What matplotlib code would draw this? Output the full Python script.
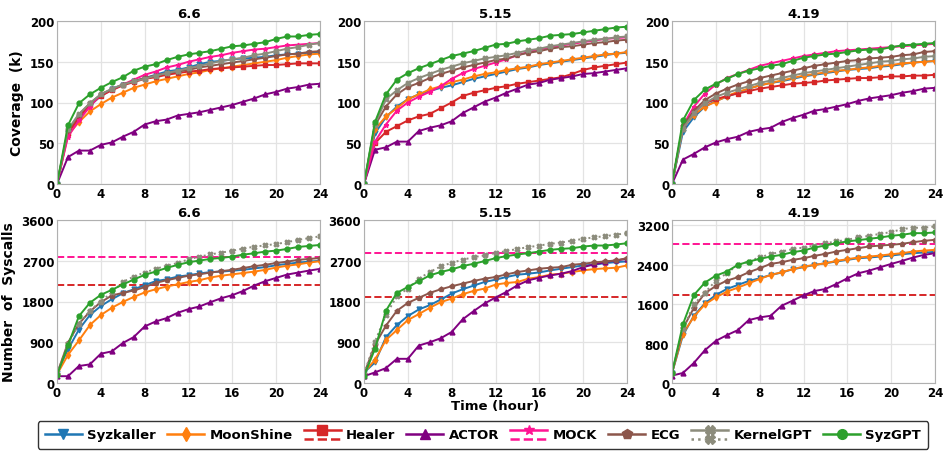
import matplotlib
matplotlib.use("Agg")
import matplotlib.pyplot as plt
from matplotlib.lines import Line2D
from matplotlib.legend_handler import HandlerBase

hours = list(range(25))
versions = ["6.6", "5.15", "4.19"]

# ---- coverage (k), top row ----
cov_syzkaller = {
    "6.6": [0, 63, 80, 96, 108, 116, 122, 126, 130, 134, 138, 140, 143, 147, 150, 151, 153, 154, 155, 156, 158, 159, 160, 161, 162],
    "5.15": [0, 62, 82, 95, 104, 110, 114, 118, 121, 125, 129, 132, 135, 138, 141, 143, 146, 148, 150, 152, 154, 156, 158, 160, 161],
    "4.19": [0, 64, 82, 95, 102, 107, 112, 117, 121, 124, 126, 129, 132, 134, 136, 138, 140, 141, 142, 144, 145, 147, 149, 150, 151],
}
cov_moonshine = {
    "6.6": [0, 60, 76, 89, 98, 106, 112, 118, 122, 126, 129, 132, 135, 137, 140, 142, 144, 146, 148, 150, 152, 155, 157, 159, 160],
    "5.15": [0, 67, 83, 93, 104, 110, 116, 120, 125, 128, 132, 135, 137, 140, 142, 144, 147, 149, 151, 153, 155, 157, 159, 160, 162],
    "4.19": [0, 69, 85, 95, 101, 108, 113, 117, 121, 124, 127, 130, 133, 135, 137, 139, 140, 142, 143, 145, 146, 148, 149, 150, 151],
}
cov_healer = {
    "6.6": [0, 62, 82, 97, 108, 115, 121, 125, 129, 131, 134, 136, 138, 139, 141, 142, 143, 144, 145, 146, 146, 147, 148, 148, 148],
    "5.15": [0, 50, 64, 71, 78, 83, 86, 93, 100, 108, 112, 115, 118, 120, 123, 125, 127, 129, 131, 135, 140, 143, 145, 147, 149],
    "4.19": [0, 70, 88, 99, 104, 108, 111, 114, 117, 119, 121, 123, 124, 125, 127, 128, 129, 130, 130, 131, 132, 132, 133, 133, 134],
}
cov_actor = {
    "6.6": [0, 33, 41, 41, 48, 51, 58, 64, 73, 77, 79, 84, 86, 88, 91, 94, 97, 101, 105, 110, 113, 117, 119, 122, 123],
    "5.15": [0, 42, 45, 52, 52, 65, 69, 72, 77, 87, 94, 101, 106, 112, 117, 122, 124, 128, 130, 132, 135, 136, 138, 140, 142],
    "4.19": [0, 30, 37, 45, 51, 55, 58, 64, 67, 69, 76, 81, 85, 90, 92, 95, 98, 102, 105, 107, 109, 112, 114, 117, 118],
}
cov_mock = {
    "6.6": [0, 58, 78, 95, 110, 116, 122, 128, 134, 138, 143, 146, 150, 153, 156, 158, 161, 163, 165, 166, 168, 170, 171, 172, 173],
    "5.15": [0, 52, 73, 90, 100, 107, 113, 120, 129, 136, 141, 145, 149, 153, 158, 162, 165, 168, 170, 172, 174, 176, 178, 179, 180],
    "4.19": [0, 72, 95, 111, 122, 130, 135, 140, 145, 148, 151, 154, 157, 159, 161, 163, 164, 165, 166, 167, 168, 169, 170, 171, 172],
}
cov_ecg = {
    "6.6": [0, 66, 85, 99, 110, 116, 122, 126, 130, 133, 136, 138, 140, 143, 145, 147, 149, 151, 153, 155, 157, 159, 160, 162, 163],
    "5.15": [0, 72, 95, 110, 119, 124, 130, 135, 139, 143, 146, 149, 152, 154, 158, 161, 163, 166, 168, 169, 171, 173, 174, 176, 177],
    "4.19": [0, 71, 90, 103, 111, 117, 122, 126, 130, 133, 136, 139, 142, 145, 147, 149, 151, 152, 154, 155, 156, 158, 159, 162, 163],
}
cov_kernelgpt = {
    "6.6": [0, 67, 86, 99, 110, 117, 122, 126, 129, 133, 136, 139, 142, 145, 148, 151, 153, 155, 158, 160, 163, 166, 168, 171, 173],
    "5.15": [0, 73, 104, 115, 124, 130, 135, 140, 144, 148, 151, 154, 156, 158, 161, 164, 166, 169, 171, 173, 175, 177, 178, 180, 181],
    "4.19": [0, 68, 87, 99, 107, 112, 116, 120, 124, 127, 130, 133, 136, 138, 140, 142, 144, 146, 148, 150, 151, 153, 154, 156, 157],
}
cov_syzgpt = {
    "6.6": [0, 72, 99, 110, 118, 125, 131, 139, 144, 147, 152, 156, 159, 161, 163, 166, 169, 170, 172, 174, 178, 181, 181, 183, 184],
    "5.15": [0, 76, 110, 128, 136, 142, 147, 152, 157, 160, 163, 167, 171, 172, 175, 177, 179, 182, 183, 184, 186, 188, 190, 192, 193],
    "4.19": [0, 78, 103, 116, 123, 129, 135, 139, 142, 145, 147, 151, 155, 157, 159, 160, 162, 164, 165, 165, 168, 170, 171, 172, 173],
}

# ---- number of syscalls, bottom row ----
sys_syzkaller = {
    "6.6": [230, 740, 1180, 1500, 1700, 1850, 1980, 2070, 2160, 2250, 2290, 2350, 2380, 2420, 2450, 2460, 2480, 2500, 2530, 2560, 2600, 2630, 2660, 2680, 2700],
    "5.15": [230, 454, 1010, 1280, 1478, 1624, 1719, 1843, 1975, 2070, 2151, 2231, 2282, 2341, 2392, 2414, 2443, 2487, 2524, 2560, 2597, 2611, 2648, 2670, 2685],
    "4.19": [200, 971, 1365, 1617, 1787, 1909, 1990, 2072, 2126, 2194, 2242, 2310, 2351, 2398, 2432, 2466, 2500, 2534, 2548, 2568, 2588, 2615, 2636, 2649, 2663],
}
sys_moonshine = {
    "6.6": [190, 620, 940, 1280, 1500, 1660, 1790, 1900, 2000, 2070, 2130, 2180, 2230, 2270, 2330, 2370, 2400, 2430, 2460, 2500, 2550, 2590, 2620, 2660, 2690],
    "5.15": [230, 512, 951, 1170, 1390, 1522, 1661, 1785, 1865, 1961, 2034, 2085, 2173, 2209, 2231, 2304, 2341, 2392, 2414, 2451, 2487, 2516, 2531, 2546, 2597],
    "4.19": [200, 1005, 1345, 1596, 1739, 1855, 1936, 2024, 2113, 2194, 2249, 2310, 2364, 2398, 2432, 2480, 2514, 2548, 2568, 2588, 2615, 2636, 2670, 2690, 2704],
}
sys_actor = {
    "6.6": [150, 150, 375, 411, 647, 698, 882, 1014, 1249, 1359, 1433, 1550, 1631, 1690, 1785, 1873, 1940, 2035, 2153, 2248, 2322, 2395, 2439, 2483, 2520],
    "5.15": [150, 234, 329, 534, 534, 827, 900, 988, 1127, 1405, 1587, 1756, 1887, 2012, 2158, 2268, 2326, 2377, 2414, 2473, 2560, 2619, 2670, 2707, 2743],
    "4.19": [150, 204, 408, 666, 856, 971, 1073, 1277, 1332, 1365, 1569, 1671, 1780, 1868, 1909, 2011, 2126, 2228, 2283, 2351, 2418, 2480, 2548, 2602, 2636],
}
sys_ecg = {
    "6.6": [200, 889, 1308, 1580, 1785, 1932, 1991, 2043, 2116, 2210, 2270, 2320, 2370, 2400, 2440, 2470, 2500, 2540, 2580, 2610, 2650, 2680, 2720, 2740, 2760],
    "5.15": [200, 841, 1266, 1595, 1770, 1880, 1990, 2070, 2136, 2195, 2253, 2304, 2341, 2399, 2451, 2487, 2524, 2546, 2560, 2611, 2633, 2663, 2685, 2707, 2758],
    "4.19": [200, 1107, 1529, 1821, 1970, 2079, 2147, 2249, 2330, 2419, 2452, 2500, 2534, 2582, 2622, 2670, 2704, 2738, 2772, 2792, 2806, 2826, 2860, 2887, 2908],
}
sys_kernelgpt = {
    "6.6": [200, 870, 1300, 1600, 1800, 2000, 2230, 2350, 2440, 2520, 2590, 2650, 2730, 2790, 2840, 2880, 2920, 2970, 3010, 3040, 3070, 3110, 3160, 3200, 3240],
    "5.15": [200, 914, 1500, 1917, 2085, 2304, 2451, 2575, 2655, 2721, 2780, 2816, 2875, 2912, 2963, 3000, 3036, 3073, 3102, 3146, 3182, 3219, 3241, 3277, 3307],
    "4.19": [200, 1100, 1600, 1834, 2079, 2228, 2398, 2466, 2554, 2615, 2670, 2717, 2751, 2792, 2840, 2874, 2908, 2955, 2989, 3030, 3064, 3125, 3152, 3152, 3179],
}
sys_syzgpt = {
    "6.6": [170, 830, 1477, 1771, 1947, 2057, 2175, 2285, 2388, 2461, 2542, 2608, 2667, 2704, 2741, 2763, 2792, 2836, 2865, 2902, 2924, 2961, 3005, 3027, 3049],
    "5.15": [150, 753, 1595, 1990, 2121, 2246, 2377, 2451, 2509, 2582, 2633, 2692, 2758, 2802, 2838, 2868, 2904, 2941, 2963, 2977, 3014, 3036, 3036, 3058, 3087],
    "4.19": [200, 1196, 1787, 2038, 2181, 2262, 2398, 2466, 2520, 2568, 2602, 2656, 2690, 2751, 2792, 2840, 2874, 2901, 2928, 2955, 2989, 3010, 3043, 3043, 3057],
}
# Healer and MOCK only report a final number -> flat dashed lines
sys_healer = {"6.6": 2170, "5.15": 1910, "4.19": 1790}
sys_mock = {"6.6": 2790, "5.15": 2880, "4.19": 2830}

sys_ylim = {"6.6": 3600, "5.15": 3600, "4.19": 3310}
sys_ticks = {"6.6": [0, 900, 1800, 2700, 3600], "5.15": [0, 900, 1800, 2700, 3600],
             "4.19": [0, 800, 1600, 2400, 3200]}

names = ["Syzkaller", "MoonShine", "Healer", "ACTOR", "MOCK", "ECG", "KernelGPT", "SyzGPT"]
colors = {"Syzkaller": "#1f77b4", "MoonShine": "#ff7f0e", "Healer": "#d62728", "ACTOR": "#800080",
          "MOCK": "#ff1493", "ECG": "#8c564b", "KernelGPT": "#8c8c7c", "SyzGPT": "#2ca02c"}
markers = {"Syzkaller": "v", "MoonShine": "d", "Healer": "s", "ACTOR": "^",
           "MOCK": "*", "ECG": "p", "KernelGPT": "X", "SyzGPT": "o"}
cov_data = {"Syzkaller": cov_syzkaller, "MoonShine": cov_moonshine, "Healer": cov_healer,
            "ACTOR": cov_actor, "MOCK": cov_mock, "ECG": cov_ecg, "KernelGPT": cov_kernelgpt,
            "SyzGPT": cov_syzgpt}
sys_data = {"Syzkaller": sys_syzkaller, "MoonShine": sys_moonshine, "ACTOR": sys_actor,
            "ECG": sys_ecg, "KernelGPT": sys_kernelgpt, "SyzGPT": sys_syzgpt}

plt.rcParams["font.family"] = "DejaVu Sans"
plt.rcParams["font.weight"] = "bold"

fig = plt.figure(figsize=(9.44, 4.56), dpi=100)
W, H = 944, 456
lefts = [57, 364, 672]
aw, ah = 263, 163
tops = [22, 221]
ms = 3.5


def style(ax):
    ax.grid(True, color="#e3e3e3", linewidth=0.9)
    ax.set_axisbelow(True)
    for s in ax.spines.values():
        s.set_color("#b0b0b0")
    ax.tick_params(length=0, labelsize=8.5, pad=2)
    for lab in ax.get_xticklabels() + ax.get_yticklabels():
        lab.set_fontweight("bold")
    ax.set_xlim(0, 24)
    ax.set_xticks([0, 4, 8, 12, 16, 20, 24])


for i, v in enumerate(versions):
    ax = fig.add_axes([lefts[i] / W, 1 - (tops[0] + ah) / H, aw / W, ah / H])
    for n in names:
        ax.plot(hours, cov_data[n][v], color=colors[n], marker=markers[n], markersize=ms,
                linewidth=1.4)
    ax.set_ylim(0, 200)
    ax.set_yticks([0, 50, 100, 150, 200])
    style(ax)
    ax.set_title(v, fontsize=9.5, fontweight="bold", pad=3)
    if i == 0:
        ax.set_ylabel("Coverage  (k)", fontsize=10, fontweight="bold")

    ax = fig.add_axes([lefts[i] / W, 1 - (tops[1] + ah) / H, aw / W, ah / H])
    ax.axhline(sys_healer[v], color=colors["Healer"], linestyle="--", linewidth=1.4)
    ax.axhline(sys_mock[v], color=colors["MOCK"], linestyle="--", linewidth=1.4)
    for n in names:
        if n not in sys_data:
            continue
        ls = ":" if n == "KernelGPT" else "-"
        ax.plot(hours, sys_data[n][v], color=colors[n], marker=markers[n], markersize=ms,
                linewidth=1.4, linestyle=ls)
    ax.set_ylim(0, sys_ylim[v])
    ax.set_yticks(sys_ticks[v])
    style(ax)
    ax.set_title(v, fontsize=9.5, fontweight="bold", pad=3)
    if i == 0:
        ax.set_ylabel("Number  of  Syscalls", fontsize=10, fontweight="bold")
    if i == 1:
        ax.set_xlabel("Time (hour)", fontsize=9.5, fontweight="bold", labelpad=0)


class TwoLineHandler(HandlerBase):
    def __init__(self, lower_style):
        super().__init__()
        self.lower_style = lower_style

    def create_artists(self, legend, orig_handle, xdescent, ydescent, width, height,
                       fontsize, trans):
        c = orig_handle.get_color()
        m = orig_handle.get_marker()
        y_top = height * 0.95
        y_bot = -height * 0.1
        top = Line2D([0, width], [y_top, y_top], color=c, linewidth=1.8, transform=trans)
        mk = Line2D([width / 2], [y_top], color=c, marker=m, markersize=7, transform=trans)
        low = Line2D([0, width], [y_bot, y_bot], color=c, linewidth=1.8,
                     linestyle=self.lower_style, transform=trans)
        arts = [top, mk, low]
        if self.lower_style == ":":
            arts.append(Line2D([width / 2], [y_bot], color=c, marker=m, markersize=7,
                               transform=trans))
        return arts


handles = []
hmap = {}
for n in names:
    h = Line2D([0], [0], color=colors[n], marker=markers[n], markersize=7, linewidth=1.8)
    handles.append(h)
    if n in ("Healer", "MOCK"):
        hmap[h] = TwoLineHandler("--")
    elif n == "KernelGPT":
        hmap[h] = TwoLineHandler(":")

leg = fig.legend(handles, names, handler_map=hmap, loc="center",
                 bbox_to_anchor=(483 / W, 1 - 436 / H), ncol=8, frameon=True,
                 prop={"weight": "bold", "size": 9.5}, handlelength=2.8,
                 columnspacing=0.85, handletextpad=0.4, borderpad=0.55,
                 fancybox=True, edgecolor="black")
leg.get_frame().set_linewidth(1.0)

fig.savefig("out.png", dpi=100)
